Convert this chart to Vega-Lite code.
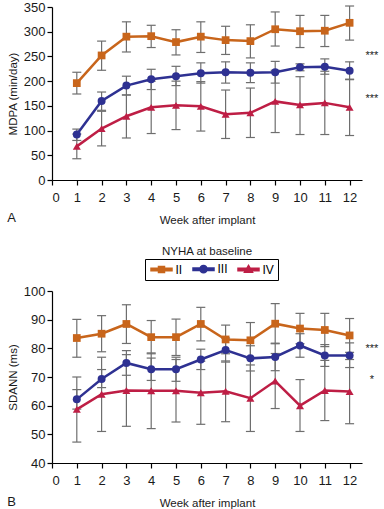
{
  "$schema": "https://vega.github.io/schema/vega-lite/v6.json",
  "padding": {"left": 7, "top": 1, "right": 0, "bottom": 0},
  "background": "white",
  "config": {
    "font": "Liberation Sans",
    "view": {"stroke": null},
    "axis": {"grid": false, "labelFont": "Liberation Sans", "titleFont": "Liberation Sans", "labelFontSize": 13, "titleFontSize": 11.5, "titleFontWeight": "normal", "labelColor": "#1a1a1a", "titleColor": "#1a1a1a", "domainColor": "#000", "tickColor": "#000", "tickSize": 5, "domainWidth": 1.2, "tickWidth": 1.2, "labelPadding": 2, "labelOverlap": false},
    "title": {"font": "Liberation Sans", "fontWeight": "normal", "color": "#1a1a1a"},
    "concat": {"spacing": 20}
  },
  "resolve": {"scale": {"color": "independent", "shape": "independent", "stroke": "independent"}, "legend": {"color": "independent", "shape": "independent", "stroke": "independent"}},
  "datasets": {
    "mdpa": [
      {"week": 1, "group": "II", "mean": 196, "lo": 174, "hi": 218},
      {"week": 2, "group": "II", "mean": 252, "lo": 222, "hi": 281},
      {"week": 3, "group": "II", "mean": 290, "lo": 259, "hi": 320},
      {"week": 4, "group": "II", "mean": 291, "lo": 268, "hi": 313},
      {"week": 5, "group": "II", "mean": 279, "lo": 253, "hi": 304},
      {"week": 6, "group": "II", "mean": 290, "lo": 258, "hi": 320},
      {"week": 7, "group": "II", "mean": 283, "lo": 254, "hi": 311},
      {"week": 8, "group": "II", "mean": 281, "lo": 247, "hi": 314},
      {"week": 9, "group": "II", "mean": 305, "lo": 271, "hi": 340},
      {"week": 10, "group": "II", "mean": 301, "lo": 268, "hi": 333},
      {"week": 11, "group": "II", "mean": 302, "lo": 270, "hi": 333},
      {"week": 12, "group": "II", "mean": 318, "lo": 283, "hi": 352},
      {"week": 1, "group": "III", "mean": 92, "lo": 80, "hi": 103},
      {"week": 2, "group": "III", "mean": 160, "lo": 141, "hi": 178},
      {"week": 3, "group": "III", "mean": 191, "lo": 172, "hi": 210},
      {"week": 4, "group": "III", "mean": 204, "lo": 183, "hi": 224},
      {"week": 5, "group": "III", "mean": 210, "lo": 191, "hi": 230},
      {"week": 6, "group": "III", "mean": 216, "lo": 196, "hi": 237},
      {"week": 7, "group": "III", "mean": 218, "lo": 196, "hi": 239},
      {"week": 8, "group": "III", "mean": 217, "lo": 197, "hi": 237},
      {"week": 9, "group": "III", "mean": 218, "lo": 196, "hi": 240},
      {"week": 10, "group": "III", "mean": 228, "lo": 221, "hi": 235},
      {"week": 11, "group": "III", "mean": 229, "lo": 214, "hi": 245},
      {"week": 12, "group": "III", "mean": 221, "lo": 203, "hi": 239},
      {"week": 1, "group": "IV", "mean": 68, "lo": 43, "hi": 93},
      {"week": 2, "group": "IV", "mean": 104, "lo": 69, "hi": 139},
      {"week": 3, "group": "IV", "mean": 129, "lo": 85, "hi": 172},
      {"week": 4, "group": "IV", "mean": 147, "lo": 94, "hi": 200},
      {"week": 5, "group": "IV", "mean": 151, "lo": 102, "hi": 200},
      {"week": 6, "group": "IV", "mean": 149, "lo": 99, "hi": 199},
      {"week": 7, "group": "IV", "mean": 133, "lo": 84, "hi": 182},
      {"week": 8, "group": "IV", "mean": 136, "lo": 86, "hi": 186},
      {"week": 9, "group": "IV", "mean": 159, "lo": 96, "hi": 222},
      {"week": 10, "group": "IV", "mean": 152, "lo": 92, "hi": 209},
      {"week": 11, "group": "IV", "mean": 156, "lo": 92, "hi": 220},
      {"week": 12, "group": "IV", "mean": 147, "lo": 90, "hi": 204}
    ],
    "sdann": [
      {"week": 1, "group": "II", "mean": 83.6, "lo": 76.9, "hi": 90.1},
      {"week": 2, "group": "II", "mean": 85.1, "lo": 78.8, "hi": 91.4},
      {"week": 3, "group": "II", "mean": 88.5, "lo": 81.7, "hi": 95.2},
      {"week": 4, "group": "II", "mean": 83.9, "lo": 78.1, "hi": 89.7},
      {"week": 5, "group": "II", "mean": 83.9, "lo": 77.5, "hi": 90.2},
      {"week": 6, "group": "II", "mean": 88.5, "lo": 82.6, "hi": 94.3},
      {"week": 7, "group": "II", "mean": 83.1, "lo": 78.1, "hi": 88.1},
      {"week": 8, "group": "II", "mean": 82.8, "lo": 76.6, "hi": 89.0},
      {"week": 9, "group": "II", "mean": 88.6, "lo": 81.6, "hi": 95.6},
      {"week": 10, "group": "II", "mean": 86.9, "lo": 81.6, "hi": 92.2},
      {"week": 11, "group": "II", "mean": 86.4, "lo": 80.6, "hi": 92.2},
      {"week": 12, "group": "II", "mean": 84.5, "lo": 78.6, "hi": 90.4},
      {"week": 1, "group": "III", "mean": 62.2, "lo": 58.8, "hi": 65.6},
      {"week": 2, "group": "III", "mean": 69.3, "lo": 66.3, "hi": 72.6},
      {"week": 3, "group": "III", "mean": 74.9, "lo": 70.6, "hi": 79.2},
      {"week": 4, "group": "III", "mean": 72.7, "lo": 68.8, "hi": 76.6},
      {"week": 5, "group": "III", "mean": 72.7, "lo": 68.5, "hi": 76.9},
      {"week": 6, "group": "III", "mean": 76.1, "lo": 72.6, "hi": 79.7},
      {"week": 7, "group": "III", "mean": 79.4, "lo": 75.2, "hi": 83.6},
      {"week": 8, "group": "III", "mean": 76.5, "lo": 72.1, "hi": 80.9},
      {"week": 9, "group": "III", "mean": 77.0, "lo": 72.2, "hi": 81.8},
      {"week": 10, "group": "III", "mean": 81.0, "lo": 76.9, "hi": 85.1},
      {"week": 11, "group": "III", "mean": 77.5, "lo": 73.7, "hi": 81.3},
      {"week": 12, "group": "III", "mean": 77.5, "lo": 73.3, "hi": 81.9},
      {"week": 1, "group": "IV", "mean": 58.7, "lo": 47.3, "hi": 70.0},
      {"week": 2, "group": "IV", "mean": 64.0, "lo": 51.0, "hi": 76.9},
      {"week": 3, "group": "IV", "mean": 65.3, "lo": 52.8, "hi": 77.8},
      {"week": 4, "group": "IV", "mean": 65.2, "lo": 52.0, "hi": 78.4},
      {"week": 5, "group": "IV", "mean": 65.2, "lo": 54.3, "hi": 76.1},
      {"week": 6, "group": "IV", "mean": 64.5, "lo": 53.5, "hi": 75.5},
      {"week": 7, "group": "IV", "mean": 65.0, "lo": 54.4, "hi": 75.6},
      {"week": 8, "group": "IV", "mean": 62.6, "lo": 51.0, "hi": 74.2},
      {"week": 9, "group": "IV", "mean": 68.6, "lo": 59.0, "hi": 78.2},
      {"week": 10, "group": "IV", "mean": 60.0, "lo": 51.0, "hi": 69.1},
      {"week": 11, "group": "IV", "mean": 65.3, "lo": 54.8, "hi": 75.8},
      {"week": 12, "group": "IV", "mean": 64.9, "lo": 53.7, "hi": 76.1}
    ],
    "starsA": [
      {"week": 12.9, "value": 251, "label": "***"},
      {"week": 12.9, "value": 164, "label": "***"}
    ],
    "starsB": [
      {"week": 12.9, "value": 79.8, "label": "***"},
      {"week": 12.9, "value": 69.0, "label": "*"}
    ]
  },
  "title": {"text": "B", "orient": "bottom", "anchor": "start", "frame": "bounds", "offset": -13, "fontSize": 13},
  "vconcat": [
    {
      "width": 310,
      "height": 173,
      "title": {"text": "A", "orient": "bottom", "anchor": "start", "frame": "bounds", "offset": -14, "fontSize": 13},
      "data": {"name": "mdpa"},
      "encoding": {
        "x": {"field": "week", "type": "quantitative", "scale": {"domain": [0, 12.5], "nice": false}, "axis": {"values": [0,1,2,3,4,5,6,7,8,9,10,11,12], "tickCount": 13, "title": "Week after implant", "titlePadding": 10, "labelPadding": 6}},
        "y": {"field": "mean", "type": "quantitative", "scale": {"domain": [0, 350], "nice": false}, "axis": {"values": [0,50,100,150,200,250,300,350], "tickCount": 8, "title": "MDPA (min/day)", "titlePadding": 5}}
      },
      "layer": [
        {
          "mark": {"type": "rule", "color": "#6e6e6e", "strokeWidth": 1.2},
          "encoding": {"y": {"field": "lo", "type": "quantitative"}, "y2": {"field": "hi"}}
        },
        {
          "mark": {"type": "tick", "orient": "horizontal", "color": "#6e6e6e", "size": 9, "thickness": 1.2, "opacity": 1},
          "encoding": {"y": {"field": "lo", "type": "quantitative"}}
        },
        {
          "mark": {"type": "tick", "orient": "horizontal", "color": "#6e6e6e", "size": 9, "thickness": 1.2, "opacity": 1},
          "encoding": {"y": {"field": "hi", "type": "quantitative"}}
        },
        {
          "mark": {"type": "line", "strokeWidth": 2.5},
          "encoding": {
            "stroke": {"field": "group", "type": "nominal", "scale": {"domain": ["II","III","IV"], "range": ["#c8651b","#2e3192","#be1e45"]}, "legend": null}
          }
        },
        {"transform": [{"filter": "datum.group === 'II'"}], "mark": {"type": "point", "shape": "square", "filled": true, "size": 60, "opacity": 1, "color": "#c8651b"}},
        {"transform": [{"filter": "datum.group === 'III'"}], "mark": {"type": "point", "shape": "circle", "filled": true, "size": 64, "opacity": 1, "color": "#2e3192"}},
        {"transform": [{"filter": "datum.group === 'IV'"}], "mark": {"type": "point", "shape": "triangle-up", "filled": true, "size": 64, "opacity": 1, "color": "#be1e45"}},
        {
          "data": {"name": "starsA"},
          "mark": {"type": "text", "fontSize": 11, "baseline": "middle", "align": "center", "fill": "#1a1a1a"},
          "encoding": {
            "y": {"field": "value", "type": "quantitative"},
            "text": {"field": "label"}
          }
        }
      ]
    },
    {
      "width": 310,
      "height": 172,
      "title": {"text": "NYHA at baseline", "orient": "top", "anchor": "middle", "fontSize": 11.5, "offset": 1},
      "data": {"name": "sdann"},
      "encoding": {
        "x": {"field": "week", "type": "quantitative", "scale": {"domain": [0, 12.5], "nice": false}, "axis": {"values": [0,1,2,3,4,5,6,7,8,9,10,11,12], "tickCount": 13, "title": "Week after implant", "titlePadding": 10, "labelPadding": 6}},
        "y": {"field": "mean", "type": "quantitative", "scale": {"domain": [40, 100], "nice": false, "zero": false}, "axis": {"values": [40,50,60,70,80,90,100], "tickCount": 7, "title": "SDANN (ms)", "titlePadding": 5}}
      },
      "layer": [
        {
          "mark": {"type": "point", "filled": true, "opacity": 0, "size": 100},
          "encoding": {
            "color": {"field": "group", "type": "nominal", "scale": {"domain": ["II","III","IV"], "range": ["#c8651b","#2e3192","#be1e45"]},
              "legend": {"orient": "none", "legendX": 93, "legendY": -32, "direction": "horizontal", "title": null, "strokeColor": "#000", "padding": 4, "symbolSize": 100, "symbolOpacity": 1, "labelFontSize": 12, "labelOffset": 8, "symbolOffset": 6.5, "columnPadding": 7}},
            "shape": {"field": "group", "type": "nominal", "scale": {"domain": ["II","III","IV"], "range": ["M-2.1,-0.25H2.1V0.25H-2.1Z M-0.6,-0.6H0.6V0.6H-0.6Z", "M-2.1,-0.25H2.1V0.25H-2.1Z M0.72,0A0.72,0.72 0 1,1 -0.72,0A0.72,0.72 0 1,1 0.72,0Z", "M-2.1,-0.25H2.1V0.25H-2.1Z M0,-0.8L0.8,0.55L-0.8,0.55Z"]},
              "legend": {"orient": "none", "legendX": 93, "legendY": -32, "direction": "horizontal", "title": null, "strokeColor": "#000", "padding": 4, "symbolSize": 100, "symbolOpacity": 1, "labelFontSize": 12, "labelOffset": 8, "symbolOffset": 6.5, "columnPadding": 7}}
          }
        },
        {
          "mark": {"type": "rule", "color": "#6e6e6e", "strokeWidth": 1.2},
          "encoding": {"y": {"field": "lo", "type": "quantitative"}, "y2": {"field": "hi"}}
        },
        {
          "mark": {"type": "tick", "orient": "horizontal", "color": "#6e6e6e", "size": 9, "thickness": 1.2, "opacity": 1},
          "encoding": {"y": {"field": "lo", "type": "quantitative"}}
        },
        {
          "mark": {"type": "tick", "orient": "horizontal", "color": "#6e6e6e", "size": 9, "thickness": 1.2, "opacity": 1},
          "encoding": {"y": {"field": "hi", "type": "quantitative"}}
        },
        {
          "mark": {"type": "line", "strokeWidth": 2.5},
          "encoding": {
            "stroke": {"field": "group", "type": "nominal", "scale": {"domain": ["II","III","IV"], "range": ["#c8651b","#2e3192","#be1e45"]}, "legend": null}
          }
        },
        {"transform": [{"filter": "datum.group === 'II'"}], "mark": {"type": "point", "shape": "square", "filled": true, "size": 60, "opacity": 1, "color": "#c8651b"}},
        {"transform": [{"filter": "datum.group === 'III'"}], "mark": {"type": "point", "shape": "circle", "filled": true, "size": 64, "opacity": 1, "color": "#2e3192"}},
        {"transform": [{"filter": "datum.group === 'IV'"}], "mark": {"type": "point", "shape": "triangle-up", "filled": true, "size": 64, "opacity": 1, "color": "#be1e45"}},
        {
          "data": {"name": "starsB"},
          "mark": {"type": "text", "fontSize": 11, "baseline": "middle", "align": "center", "fill": "#1a1a1a"},
          "encoding": {
            "y": {"field": "value", "type": "quantitative"},
            "text": {"field": "label"}
          }
        }
      ]
    }
  ]
}
